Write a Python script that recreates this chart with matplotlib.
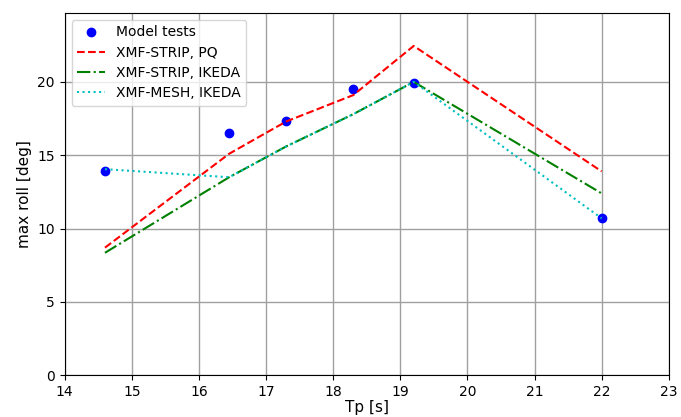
import matplotlib
matplotlib.use("Agg")
import matplotlib.pyplot as plt

# Model test results
tp_tests = [14.6, 16.45, 17.3, 18.3, 19.2, 22.0]
roll_tests = [13.9, 16.5, 17.3, 19.5, 19.95, 10.7]

# Simulations
tp_sim = [14.6, 16.45, 17.3, 18.3, 19.2, 22.0]
roll_strip_pq = [8.7, 15.1, 17.3, 19.1, 22.45, 13.9]
roll_strip_ikeda = [8.35, 13.5, 15.6, 17.8, 20.0, 12.4]
roll_mesh_ikeda = [14.05, 13.5, 15.6, 17.8, 20.0, 10.7]

fig = plt.figure(figsize=(6.81, 4.17), dpi=100)
ax = fig.add_axes([0.095, 0.10, 0.887, 0.869])

ax.plot(tp_tests, roll_tests, "o", color="blue", markersize=6, label="Model tests")
ax.plot(tp_sim, roll_strip_pq, "--", color="red", linewidth=1.5, label="XMF-STRIP, PQ")
ax.plot(tp_sim, roll_strip_ikeda, "-.", color="green", linewidth=1.5, label="XMF-STRIP, IKEDA")
ax.plot(tp_sim, roll_mesh_ikeda, ":", color="c", linewidth=1.5, label="XMF-MESH, IKEDA")

ax.set_xlim(14, 23)
ax.set_ylim(0, 24.7)
ax.set_xticks(range(14, 24))
ax.set_yticks([0, 5, 10, 15, 20])
ax.tick_params(labelsize=10)
ax.grid(True, color="#a0a0a0", linewidth=1.0)
ax.set_xlabel("Tp [s]", fontsize=11, labelpad=1)
ax.set_ylabel("max roll [deg]", fontsize=11)
ax.legend(loc="upper left", fontsize=10, labelspacing=0.45)

fig.savefig("out.png", dpi=100)
